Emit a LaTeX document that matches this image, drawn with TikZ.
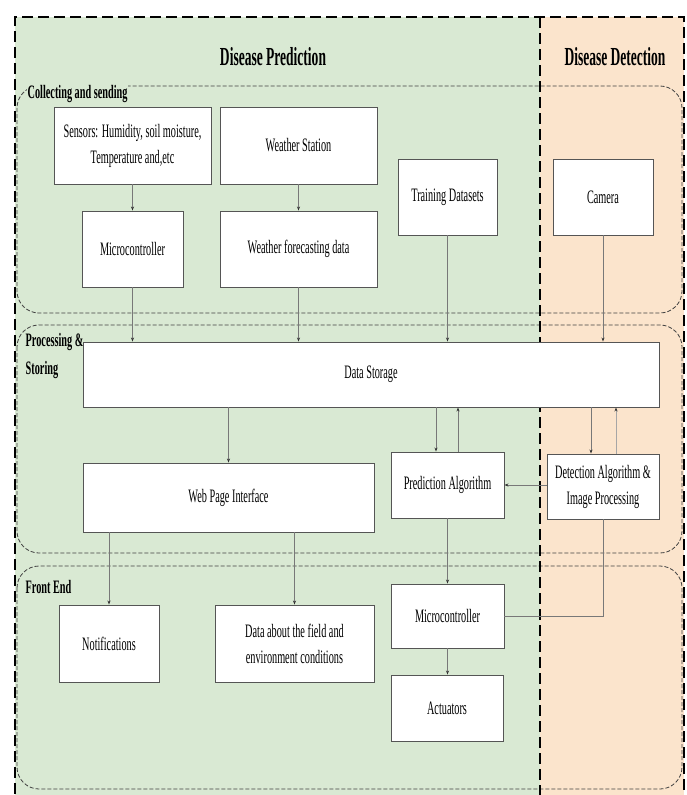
\documentclass[tikz,border=0pt]{standalone}
\usepackage{fontspec}
\setmainfont{Liberation Serif}[FakeStretch=0.54]
\newfontfamily\titlefont{Liberation Serif}[FakeStretch=0.52]
\usetikzlibrary{arrows.meta}
\definecolor{predgreen}{RGB}{217,233,211}
\definecolor{detorange}{RGB}{251,228,204}
\definecolor{boxline}{RGB}{85,85,85}
\definecolor{arrline}{RGB}{120,120,120}
\tikzset{
  boxnode/.style={draw=boxline, line width=0.9pt, fill=white, align=center,
    inner sep=2pt, font=\fontsize{19}{26}\selectfont},
  arr/.style={draw=arrline, line width=0.7pt, -{Stealth[length=4pt,width=3pt,color=black!80]}},
  plainline/.style={draw=arrline, line width=0.7pt},
  region/.style={draw=black!75, line width=0.8pt, dash pattern=on 4pt off 2pt, rounded corners=22pt},
  outerdash/.style={draw=black, line width=2.4pt, dash pattern=on 11pt off 5pt},
  sectitle/.style={font=\titlefont\bfseries\fontsize{26}{28}\selectfont, inner sep=0pt},
  reglabel/.style={font=\bfseries\fontsize{19}{28}\selectfont, inner sep=0.5pt, align=left},
}
\begin{document}
\begin{tikzpicture}[x=1pt,y=-1pt]
\clip (0,0) rectangle (687,795);
\fill[white] (0,0) rectangle (687,795);
% backgrounds
\fill[predgreen] (15,17) rectangle (540,810);
\fill[detorange] (540,17) rectangle (684,810);
% regions
\draw[region] (17,86) rectangle (682,313);
\draw[region] (17,325) rectangle (682,553);
\draw[region] (17,566) rectangle (682,789);
% outer border and divider
\draw[outerdash] (15,810) -- (15,17) -- (684,17) -- (684,810);
\draw[outerdash] (540,17) -- (540,810);
% titles
\node[sectitle, anchor=base] (tpred) at (273,65) {Disease Prediction};
\node[sectitle, anchor=base] (tdet) at (615,65) {Disease Detection};
% region labels
\node[reglabel, fill=predgreen, anchor=base west] (lcol) at (27,98) {Collecting and sending};
\node[reglabel, anchor=north west] (lproc) at (25,333) {Processing \&\\Storing};
\node[reglabel, anchor=base west] (lfront) at (25,593) {Front End};
% nodes
\node[boxnode, minimum width=157pt, minimum height=77pt] (sensors) at (132.5,145.5) {Sensors: Humidity, soil moisture,\\Temperature and,etc};
\node[boxnode, minimum width=157pt, minimum height=77pt] (wstation) at (298.5,145.5) {Weather Station};
\node[boxnode, minimum width=101pt, minimum height=76pt] (micro1) at (132.5,249) {Microcontroller};
\node[boxnode, minimum width=157pt, minimum height=76pt] (wfore) at (298.5,249) {Weather forecasting data};
\node[boxnode, minimum width=99pt, minimum height=76pt] (train) at (447.5,197) {Training Datasets};
\node[boxnode, minimum width=100pt, minimum height=76pt] (camera) at (603,197) {Camera};
\node[boxnode, minimum width=576pt, minimum height=65pt] (storage) at (371,374.5) {Data Storage};
\node[boxnode, minimum width=291pt, minimum height=69pt] (web) at (228.5,497.5) {Web Page Interface};
\node[boxnode, minimum width=113pt, minimum height=66pt] (pred) at (447.5,485) {Prediction Algorithm};
\node[boxnode, minimum width=112pt, minimum height=65pt] (detect) at (603,486.5) {Detection Algorithm \&\\Image Processing};
\node[boxnode, minimum width=100pt, minimum height=77pt] (notif) at (109,643.5) {Notifications};
\node[boxnode, minimum width=159pt, minimum height=77pt] (field) at (294.5,643.5) {Data about the field and\\environment conditions};
\node[boxnode, minimum width=113pt, minimum height=64pt] (micro2) at (447.5,616) {Microcontroller};
\node[boxnode, minimum width=112pt, minimum height=66pt] (act) at (447,708) {Actuators};
% connectors
\draw[arr] (sensors.south -| micro1.north) -- (micro1.north);
\draw[arr] (wstation.south) -- (wfore.north);
\draw[arr] (micro1.south) -- (micro1.south |- storage.north);
\draw[arr] (wfore.south) -- (wfore.south |- storage.north);
\draw[arr] (train.south) -- (train.south |- storage.north);
\draw[arr] (camera.south) -- (camera.south |- storage.north);
\draw[arr] (web.north |- storage.south) -- (web.north);
\draw[arr] ([xshift=-11.5pt]pred.north |- storage.south) -- ([xshift=-11.5pt]pred.north);
\draw[arr] ([xshift=10.5pt]pred.north) -- ([xshift=10.5pt]pred.north |- storage.south);
\draw[arr] ([xshift=-12pt]detect.north |- storage.south) -- ([xshift=-12pt]detect.north);
\draw[arr, draw=black!35] ([xshift=13pt]detect.north) -- ([xshift=13pt]detect.north |- storage.south);
\draw[arr] (detect.west |- pred.east) -- (pred.east);
\draw[arr] (notif.north |- web.south) -- (notif.north);
\draw[arr] (field.north |- web.south) -- (field.north);
\draw[arr] (pred.south) -- (micro2.north);
\draw[arr] (micro2.south) -- (micro2.south |- act.north);
\draw[plainline] (detect.south) |- (micro2.east);
\end{tikzpicture}
\end{document}
